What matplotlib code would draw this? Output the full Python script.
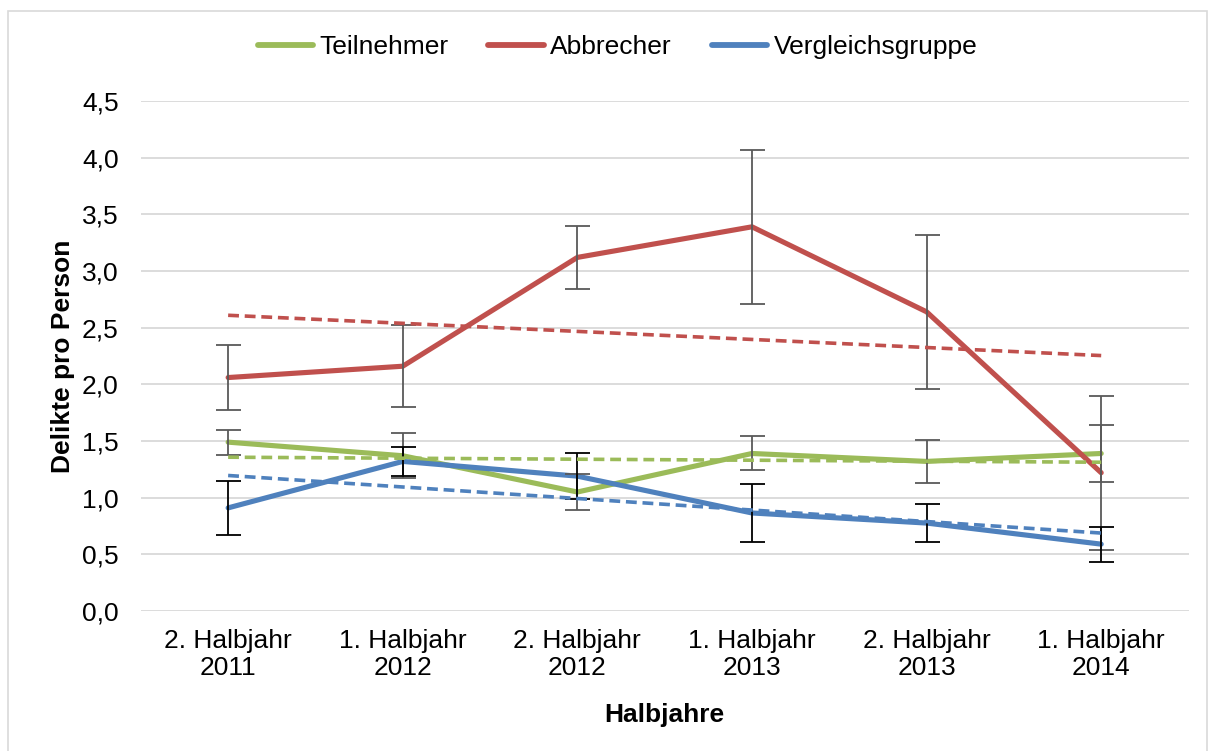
import numpy as np
import matplotlib
matplotlib.use("Agg")
import matplotlib.pyplot as plt
from matplotlib.patches import Rectangle

plt.rcParams['font.family'] = ['Liberation Sans', 'DejaVu Sans']

labels = ['2. Halbjahr\n2011', '1. Halbjahr\n2012', '2. Halbjahr\n2012',
          '1. Halbjahr\n2013', '2. Halbjahr\n2013', '1. Halbjahr\n2014']

teilnehmer = [1.49, 1.37, 1.05, 1.39, 1.32, 1.39]
teilnehmer_err = [0.11, 0.20, 0.16, 0.15, 0.19, 0.25]
abbrecher = [2.06, 2.16, 3.12, 3.39, 2.64, 1.22]
abbrecher_err = [0.29, 0.36, 0.28, 0.68, 0.68, 0.68]
vergleich = [0.91, 1.32, 1.19, 0.865, 0.776, 0.59]
vergleich_err = [0.24, 0.13, 0.20, 0.26, 0.165, 0.155]

yticks = [0.0, 0.5, 1.0, 1.5, 2.0, 2.5, 3.0, 3.5, 4.0, 4.5]

FS = 19

fig = plt.figure(figsize=(12.14, 7.51), dpi=100)
fig.patches.append(Rectangle((8 / 1214, -0.01), 1199 / 1214, 1 - 11 / 751 + 0.01,
                             transform=fig.transFigure, fill=False,
                             edgecolor='#D9D9D9', linewidth=1.2))
ax = fig.add_axes([0.116, 0.1864, 0.863, 0.6791])

x = np.arange(len(labels))
series = [
    (teilnehmer, teilnehmer_err, '#9BBB59', '#595959', 'Teilnehmer'),
    (abbrecher, abbrecher_err, '#C0504D', '#595959', 'Abbrecher'),
    (vergleich, vergleich_err, '#4F81BD', '#000000', 'Vergleichsgruppe'),
]

for vals, err, col, ecol, name in series:
    ax.errorbar(x, vals, yerr=err, fmt='none', ecolor=ecol, elinewidth=1.3,
                capsize=9, capthick=1.3, zorder=4)
    ax.plot(x, vals, color=col, linewidth=3.7, solid_capstyle='round',
            solid_joinstyle='round', label=name, zorder=3)
    # linear trend line like in Excel
    k, d = np.polyfit(x, vals, 1)
    ax.plot(x, k * x + d, color=col, linewidth=2.6, linestyle=(0, (3, 1.6)),
            zorder=5)

ax.set_xlim(-0.5, len(labels) - 0.5)
ax.set_ylim(0, 4.5)
ax.set_yticks(yticks)
ax.set_yticklabels([('%.1f' % v).replace('.', ',') for v in yticks])
ax.set_xticks(x)
ax.set_xticklabels(labels, linespacing=1.18)
ax.tick_params(axis='both', length=0, labelsize=FS, colors='#000000')
ax.tick_params(axis='y', pad=16)
ax.tick_params(axis='x', pad=13)
ax.grid(axis='y', color='#D9D9D9', linewidth=1.3)
ax.set_axisbelow(True)
for s in ax.spines.values():
    s.set_visible(False)

ax.set_ylabel('Delikte pro Person', fontsize=FS, fontweight='bold', labelpad=5)
ax.set_xlabel('Halbjahre', fontsize=FS, fontweight='bold', labelpad=16)

leg = fig.legend(loc='center', bbox_to_anchor=(0.5087, 1 - 47 / 751), ncol=3,
                 frameon=False, fontsize=FS, handlelength=2.1,
                 handletextpad=0.25, columnspacing=1.5)
for h in leg.get_lines():
    h.set_linewidth(4.2)

fig.savefig('out.png', dpi=100)
